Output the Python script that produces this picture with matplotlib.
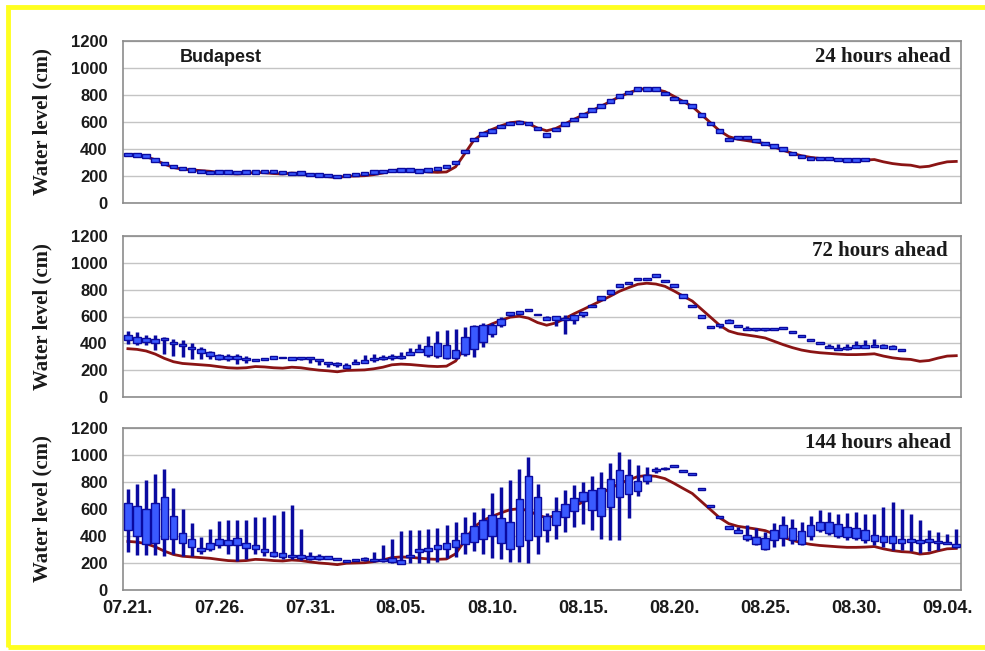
import numpy as np
import matplotlib
matplotlib.use("Agg")
import matplotlib.pyplot as plt
from matplotlib.patches import Rectangle

# ---------------- data ----------------
# time in days since 07.21 (00h), half-day steps
date_labels = ["07.21.", "07.26.", "07.31.", "08.05.", "08.10.", "08.15.",
               "08.20.", "08.25.", "08.30.", "09.04."]
date_ticks = [0, 5, 10, 15, 20, 25, 30, 35, 40, 45]

observed = [360, 355, 343, 320, 288, 263, 250, 245, 240, 235, 226, 218, 215, 218,
            227, 224, 218, 215, 222, 218, 208, 200, 195, 188, 198, 200, 202, 210,
            222, 240, 245, 242, 236, 230, 227, 230, 268, 365, 465, 515, 545, 572,
            595, 602, 588, 555, 535, 552, 585, 620, 652, 685, 718, 752, 788, 815,
            840, 848, 842, 825, 790, 752, 715, 655, 595, 535, 492, 472, 462, 452,
            440, 415, 390, 368, 350, 338, 330, 325, 320, 316, 316, 318, 322, 305,
            292, 284, 280, 266, 272, 290, 305, 308]

# 24 hours ahead: forecast values (small boxes)
f24_mid = [360, 356, 350, 318, 294, 269, 257, 244, 232, 225, 230, 230, 227, 230,
           230, 232, 232, 225, 220, 222, 210, 207, 202, 198, 202, 212, 220, 230,
           232, 240, 244, 244, 237, 244, 254, 269, 300, 380, 470, 510, 535, 565,
           590, 595, 590, 553, 504, 546, 585, 620, 652, 689, 719, 756, 793, 817,
           844, 844, 844, 812, 775, 751, 719, 652, 590, 533, 472, 484, 484, 462,
           442, 422, 400, 368, 343, 331, 328, 328, 323, 319, 319, 321]

# 72 hours ahead: whisker low, box low, box high, whisker high
f72_wlo = [398, 391, 386, 353, 323, 304, 299, 286, 286, 281, 274, 266, 249, 254,
           266, 279, 286, 287, 279, 274, 256, 237, 224, 224, 217, 249, 256, 264,
           279, 279, 284, 311, 336, 299, 291, 286, 286, 304, 299, 373, 448, 523,
           604, 621, 640, 608, 576, 527, 472, 542, 596, 671, 725, 765, 820, 840,
           870, 870, 894, 858, 820, 740, 670, 589, 515, 515, 554, 522, 497, 490,
           492, 497, 510, 478, 445, 420, 395, 368, 348, 348, 368, 368, 373, 368,
           360, 346]
f72_q1 = [423, 403, 410, 406, 428, 398, 378, 358, 329, 304, 286, 286, 286, 274,
          266, 279, 286, 287, 279, 284, 281, 266, 249, 237, 217, 249, 256, 274,
          284, 291, 291, 316, 336, 316, 304, 291, 291, 324, 356, 410, 470, 540,
          608, 621, 640, 608, 576, 571, 571, 576, 614, 671, 725, 765, 820, 840,
          870, 870, 894, 858, 820, 740, 670, 589, 515, 529, 554, 522, 497, 497,
          497, 502, 510, 478, 445, 420, 395, 368, 348, 358, 368, 368, 373, 368,
          360, 346]
f72_q3 = [461, 448, 443, 436, 441, 411, 398, 368, 361, 336, 311, 309, 304, 291,
          280, 292, 304, 300, 299, 296, 293, 279, 259, 254, 237, 261, 279, 291,
          299, 309, 309, 336, 361, 381, 406, 386, 353, 448, 528, 540, 540, 578,
          630, 641, 652, 620, 596, 601, 589, 609, 634, 688, 750, 795, 840, 857,
          882, 890, 914, 872, 845, 765, 683, 609, 529, 547, 572, 539, 517, 507,
          507, 512, 524, 492, 459, 434, 409, 378, 365, 368, 385, 385, 385, 385,
          378, 360]
f72_whi = [493, 485, 465, 460, 448, 436, 423, 403, 373, 344, 324, 324, 324, 304,
           280, 292, 304, 300, 299, 296, 293, 279, 261, 261, 254, 286, 311, 324,
           311, 324, 336, 368, 398, 453, 493, 503, 510, 523, 535, 548, 553, 593,
           635, 641, 652, 620, 601, 601, 609, 609, 634, 688, 750, 795, 840, 857,
           882, 890, 914, 872, 845, 765, 683, 609, 529, 547, 580, 539, 527, 515,
           512, 517, 524, 492, 459, 434, 409, 398, 398, 398, 417, 422, 435, 398,
           390, 360]

# 144 hours ahead
f144_wlo = [282, 262, 257, 257, 250, 265, 250, 250, 265, 289, 311, 265, 213, 233,
            265, 250, 245, 233, 233, 225, 225, 225, 233, 220, 206, 213, 213, 210,
            210, 201, 196, 201, 201, 201, 208, 238, 245, 270, 289, 270, 238, 233,
            208, 208, 201, 270, 355, 380, 429, 466, 490, 441, 380, 373, 373, 532,
            699, 784, 870, 890, 912, 875, 850, 738, 618, 532, 449, 421, 360, 331,
            296, 319, 323, 343, 331, 373, 429, 404, 387, 368, 368, 348, 336, 319,
            299, 294, 289, 275, 289, 299, 340, 314]
f144_q1 = [448, 397, 343, 350, 380, 375, 348, 319, 287, 306, 331, 331, 331, 311,
           301, 282, 250, 245, 243, 238, 233, 233, 233, 220, 206, 213, 220, 213,
           213, 208, 196, 245, 282, 289, 301, 306, 319, 343, 355, 380, 397, 350,
           301, 326, 368, 397, 441, 478, 544, 588, 657, 596, 547, 618, 686, 711,
           735, 809, 880, 893, 912, 875, 850, 738, 618, 532, 449, 421, 375, 343,
           301, 368, 387, 368, 343, 397, 441, 421, 397, 392, 387, 368, 363, 355,
           350, 348, 355, 348, 355, 350, 343, 319]
f144_q3 = [642, 620, 600, 642, 691, 551, 421, 375, 314, 350, 375, 373, 387, 350,
           331, 306, 282, 275, 262, 262, 252, 252, 250, 233, 220, 227, 233, 225,
           233, 238, 225, 262, 306, 314, 331, 350, 373, 421, 471, 515, 559, 534,
           502, 674, 841, 691, 551, 588, 637, 681, 723, 740, 752, 821, 890, 853,
           804, 850, 900, 905, 925, 890, 866, 752, 632, 546, 471, 441, 409, 392,
           387, 441, 478, 461, 434, 478, 502, 502, 490, 466, 461, 441, 409, 397,
           397, 380, 375, 373, 380, 360, 353, 343]
f144_whi = [747, 784, 814, 858, 895, 755, 600, 495, 392, 453, 510, 515, 515, 520,
            539, 544, 556, 588, 632, 453, 282, 270, 250, 233, 220, 227, 245, 282,
            331, 380, 436, 446, 446, 453, 461, 478, 502, 539, 576, 608, 716, 765,
            814, 895, 985, 784, 569, 686, 740, 777, 801, 846, 877, 944, 1025, 968,
            924, 912, 910, 910, 925, 890, 866, 752, 632, 546, 471, 466, 483, 458,
            429, 495, 551, 527, 502, 551, 593, 576, 564, 569, 576, 564, 564, 613,
            650, 600, 564, 515, 441, 429, 417, 453]

panel_titles = ["24 hours ahead", "72 hours ahead", "144 hours ahead"]
station = "Budapest"
ylabel = "Water level (cm)"

# ---------------- styling ----------------
W, H = 985, 651
fig = plt.figure(figsize=(W / 100, H / 100), dpi=100)
fig.patch.set_facecolor("white")

# yellow frame
fig.patches.append(Rectangle((8 / W, 1 - 647 / H), 1.05, (647 - 7) / H,
                             transform=fig.transFigure, fill=False,
                             edgecolor="#ffff20", lw=3.5, zorder=0))

left, right = 123, 961
panels_px = [(41, 203), (236, 397), (428, 590)]

box_face = "#3a5aff"
box_edge = "#0a0aa0"
line_col = "#8a1414"
sans = "Liberation Sans"
serif = "Liberation Serif"

t_obs = np.arange(len(observed)) * 0.5


def draw_boxes(ax, wlo, q1, q3, whi):
    t = np.arange(len(q1)) * 0.5
    wlo = np.asarray(wlo, float)
    whi = np.asarray(whi, float)
    q1 = np.asarray(q1, float)
    q3 = np.asarray(q3, float)
    ax.vlines(t, wlo, whi, color=box_edge, lw=2.5, zorder=3)
    h = np.maximum(q3 - q1, 14)
    ax.bar(t, h, bottom=q1, width=0.42, color=box_face, edgecolor=box_edge,
           lw=1.0, zorder=4)


axes = []
for i, (top, bot) in enumerate(panels_px):
    ax = fig.add_axes([left / W, 1 - bot / H, (right - left) / W, (bot - top) / H])
    axes.append(ax)
    ax.set_facecolor("white")
    ax.set_xlim(-0.27, 45.76)
    ax.set_ylim(0, 1200)
    ax.set_yticks(range(0, 1201, 200))
    ax.grid(axis="y", color="#c4c4c4", lw=1.0, zorder=0)
    ax.set_axisbelow(True)
    for s in ax.spines.values():
        s.set_color("#8c8c8c")
        s.set_linewidth(1.2)
    ax.tick_params(axis="y", length=0, pad=11)
    ax.tick_params(axis="x", length=0, pad=7)
    for lab in ax.get_yticklabels():
        lab.set_fontfamily(sans)
        lab.set_fontweight("bold")
        lab.set_fontsize(12)
        lab.set_color("#1a1a1a")
    ax.set_xticks(date_ticks)
    if i == 2:
        ax.set_xticklabels(date_labels, fontfamily=sans, fontweight="bold",
                           fontsize=13, color="#1a1a1a")
    else:
        ax.set_xticklabels([])
    ax.plot(t_obs, observed, color=line_col, lw=2.0, zorder=2)
    ax.text(0.988 if i != 1 else 0.9845, 0.90 if i == 0 else 0.907,
            panel_titles[i], transform=ax.transAxes, ha="right", va="center",
            fontfamily=serif, fontweight="bold", fontsize=15, color="#1a1a1a")
    fig.text(42 / W, 1 - (top + bot) / 2 / H, ylabel, rotation=90,
             ha="center", va="center", fontfamily=serif, fontweight="bold",
             fontsize=15, color="#1a1a1a")

# panel 1: small boxes at forecast values
mid = np.asarray(f24_mid, float)
draw_boxes(axes[0], mid - 13, mid - 13, mid + 13, mid + 13)
axes[0].text(0.068, 0.90, station, transform=axes[0].transAxes, ha="left",
             va="center", fontfamily=sans, fontweight="bold", fontsize=13,
             color="#1a1a1a")
draw_boxes(axes[1], f72_wlo, f72_q1, f72_q3, f72_whi)
draw_boxes(axes[2], f144_wlo, f144_q1, f144_q3, f144_whi)

fig.savefig("out.png", dpi=100, facecolor=fig.get_facecolor())
